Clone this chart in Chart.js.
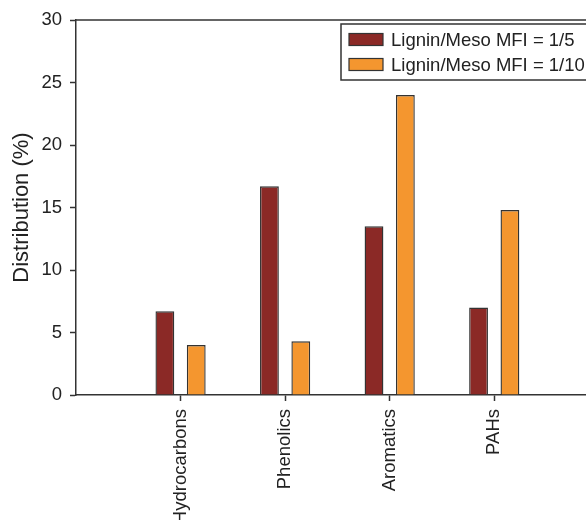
<!DOCTYPE html>
<html>
<head>
<meta charset="utf-8">
<script src="https://cdn.jsdelivr.net/npm/chart.js@4"></script>
<style>
  html, body { margin: 0; padding: 0; background: #fff; overflow: hidden; width: 586px; height: 520px; }
  #wrap { width: 629px; height: 520px; }
</style>
</head>
<body>
<div id="wrap"><canvas id="c" width="629" height="520"></canvas></div>
<script>
// Product distribution by compound class
const categories = ['Hydrocarbons', 'Phenolics', 'Aromatics', 'PAHs'];
const seriesNames = ['Lignin/Meso MFI = 1/5', 'Lignin/Meso MFI = 1/10'];
const ratioOneFifth = [6.7, 16.7, 13.5, 7.0];
const ratioOneTenth = [4.0, 4.3, 24.0, 14.8];
const yTickValues = [0, 5, 10, 15, 20, 25, 30];

const FONT = "'Liberation Sans', Arial, Helvetica, sans-serif";
const FONT_SIZE = 18.5;
const TITLE_SIZE = 22;
const INK = '#333333';
const TEXT = '#222222';

// an empty slot on each side keeps the groups off the frame edges
const labels = ['', ...categories, ''];
const pad = arr => [null, ...arr, null];

// plot frame: top and right edges of the chart area
const framePlugin = {
  id: 'frame',
  afterDatasetsDraw(chart) {
    const { ctx, chartArea: a } = chart;
    ctx.save();
    ctx.strokeStyle = INK;
    ctx.lineWidth = 1.5;
    ctx.beginPath();
    ctx.moveTo(a.left, a.top);
    ctx.lineTo(a.right, a.top);
    ctx.lineTo(a.right, a.bottom);
    ctx.stroke();
    ctx.restore();
  }
};

// boxed legend in the upper right corner
const boxLegend = {
  id: 'boxLegend',
  afterDraw(chart, args, o) {
    const ctx = chart.ctx;
    const sets = chart.data.datasets;
    ctx.save();
    ctx.font = `${FONT_SIZE}px ${FONT}`;
    const textW = Math.max(...sets.map(d => ctx.measureText(d.label).width));
    const w = o.padX + o.swatchW + o.gap + textW + o.padRight;
    const h = o.rowH * sets.length + o.padY * 2;
    ctx.fillStyle = '#fff';
    ctx.fillRect(o.x, o.y, w, h);
    ctx.strokeStyle = INK;
    ctx.lineWidth = 1.5;
    ctx.strokeRect(o.x, o.y, w, h);
    sets.forEach((d, i) => {
      const cy = o.y + o.padY + o.rowH * (i + 0.5);
      const sx = o.x + o.padX;
      ctx.fillStyle = d.backgroundColor;
      ctx.fillRect(sx, cy - o.swatchH / 2, o.swatchW, o.swatchH);
      ctx.lineWidth = 1.2;
      ctx.strokeRect(sx, cy - o.swatchH / 2, o.swatchW, o.swatchH);
      ctx.fillStyle = TEXT;
      ctx.textBaseline = 'middle';
      ctx.textAlign = 'left';
      ctx.fillText(d.label, sx + o.swatchW + o.gap, cy + 1);
    });
    ctx.restore();
  }
};

new Chart(document.getElementById('c'), {
  type: 'bar',
  data: {
    labels: labels,
    datasets: [
      {
        label: seriesNames[0],
        data: pad(ratioOneFifth),
        backgroundColor: '#8B2926',
        borderColor: INK,
        borderWidth: 1.4
      },
      {
        label: seriesNames[1],
        data: pad(ratioOneTenth),
        backgroundColor: '#F4962F',
        borderColor: INK,
        borderWidth: 1.4
      }
    ]
  },
  options: {
    responsive: false,
    animation: false,
    devicePixelRatio: 1,
    layout: { padding: { top: 20, right: 0, left: 0, bottom: 0 } },
    categoryPercentage: 0.6,
    barPercentage: 0.6,
    plugins: {
      legend: { display: false },
      tooltip: { enabled: false },
      boxLegend: { x: 341, y: 24, padX: 8, padY: 3, rowH: 25, swatchW: 34, swatchH: 12, gap: 8, padRight: 14 }
    },
    scales: {
      x: {
        offset: false,
        grid: {
          offset: false,
          drawOnChartArea: false,
          tickLength: 6,
          tickWidth: 1.5,
          tickColor: c => (c.tick && c.tick.label === '') ? 'rgba(0,0,0,0)' : INK
        },
        border: { color: INK, width: 1.5 },
        ticks: {
          autoSkip: false,
          minRotation: 90,
          maxRotation: 90,
          padding: 8,
          color: TEXT,
          font: { family: FONT, size: FONT_SIZE }
        },
        afterFit: s => { s.height = 125; }
      },
      y: {
        min: 0,
        max: 30,
        afterBuildTicks: s => { s.ticks = yTickValues.map(v => ({ value: v })); },
        grid: { drawOnChartArea: false, tickLength: 6, tickWidth: 1.5, tickColor: INK },
        border: { color: INK, width: 1.5 },
        ticks: {
          padding: 8,
          color: TEXT,
          font: { family: FONT, size: FONT_SIZE }
        },
        title: {
          display: true,
          text: 'Distribution (%)',
          color: TEXT,
          padding: { top: 9, bottom: 0 },
          font: { family: FONT, size: TITLE_SIZE }
        },
        afterFit: s => { s.width = 76; }
      }
    }
  },
  plugins: [framePlugin, boxLegend]
});
</script>
</body>
</html>
